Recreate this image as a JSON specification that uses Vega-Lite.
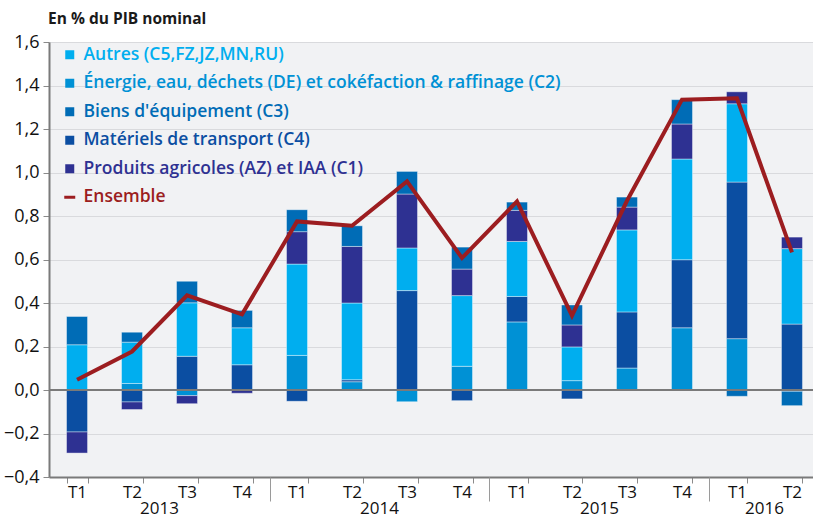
{
  "$schema": "https://vega.github.io/schema/vega-lite/v6.json",
  "width": 764,
  "height": 435,
  "autosize": {"type": "none"},
  "padding": {"left": 49, "top": 42, "right": 0, "bottom": 40},
  "background": "white",
  "title": {"text": "En % du PIB nominal", "anchor": "start", "frame": "group", "offset": 6, "fontSize": 15.5, "fontWeight": "bold", "font": "Open Sans", "color": "#1a1a1a", "dx": -1},
  "config": {"view": {"stroke": null, "fill": "#f1f2f4"}, "font": "Open Sans"},
  "datasets": {
    "bars": [
      {"q": "2013-T1", "cat": "Autres (C5,FZ,JZ,MN,RU)", "v": 0.208},
      {"q": "2013-T1", "cat": "Biens d'équipement (C3)", "v": 0.13},
      {"q": "2013-T1", "cat": "Matériels de transport (C4)", "v": -0.193},
      {"q": "2013-T1", "cat": "Produits agricoles (AZ) et IAA (C1)", "v": -0.097},
      {"q": "2013-T2", "cat": "Énergie, eau, déchets (DE) et cokéfaction & raffinage (C2)", "v": 0.03},
      {"q": "2013-T2", "cat": "Autres (C5,FZ,JZ,MN,RU)", "v": 0.19},
      {"q": "2013-T2", "cat": "Biens d'équipement (C3)", "v": 0.046},
      {"q": "2013-T2", "cat": "Matériels de transport (C4)", "v": -0.055},
      {"q": "2013-T2", "cat": "Produits agricoles (AZ) et IAA (C1)", "v": -0.035},
      {"q": "2013-T3", "cat": "Matériels de transport (C4)", "v": 0.155},
      {"q": "2013-T3", "cat": "Autres (C5,FZ,JZ,MN,RU)", "v": 0.246},
      {"q": "2013-T3", "cat": "Biens d'équipement (C3)", "v": 0.099},
      {"q": "2013-T3", "cat": "Énergie, eau, déchets (DE) et cokéfaction & raffinage (C2)", "v": -0.026},
      {"q": "2013-T3", "cat": "Produits agricoles (AZ) et IAA (C1)", "v": -0.037},
      {"q": "2013-T4", "cat": "Matériels de transport (C4)", "v": 0.116},
      {"q": "2013-T4", "cat": "Autres (C5,FZ,JZ,MN,RU)", "v": 0.17},
      {"q": "2013-T4", "cat": "Biens d'équipement (C3)", "v": 0.08},
      {"q": "2013-T4", "cat": "Produits agricoles (AZ) et IAA (C1)", "v": -0.015},
      {"q": "2014-T1", "cat": "Énergie, eau, déchets (DE) et cokéfaction & raffinage (C2)", "v": 0.159},
      {"q": "2014-T1", "cat": "Autres (C5,FZ,JZ,MN,RU)", "v": 0.42},
      {"q": "2014-T1", "cat": "Produits agricoles (AZ) et IAA (C1)", "v": 0.149},
      {"q": "2014-T1", "cat": "Biens d'équipement (C3)", "v": 0.101},
      {"q": "2014-T1", "cat": "Matériels de transport (C4)", "v": -0.052},
      {"q": "2014-T2", "cat": "Énergie, eau, déchets (DE) et cokéfaction & raffinage (C2)", "v": 0.038},
      {"q": "2014-T2", "cat": "Matériels de transport (C4)", "v": 0.009},
      {"q": "2014-T2", "cat": "Autres (C5,FZ,JZ,MN,RU)", "v": 0.353},
      {"q": "2014-T2", "cat": "Produits agricoles (AZ) et IAA (C1)", "v": 0.26},
      {"q": "2014-T2", "cat": "Biens d'équipement (C3)", "v": 0.095},
      {"q": "2014-T3", "cat": "Matériels de transport (C4)", "v": 0.457},
      {"q": "2014-T3", "cat": "Autres (C5,FZ,JZ,MN,RU)", "v": 0.196},
      {"q": "2014-T3", "cat": "Produits agricoles (AZ) et IAA (C1)", "v": 0.248},
      {"q": "2014-T3", "cat": "Biens d'équipement (C3)", "v": 0.104},
      {"q": "2014-T3", "cat": "Énergie, eau, déchets (DE) et cokéfaction & raffinage (C2)", "v": -0.054},
      {"q": "2014-T4", "cat": "Énergie, eau, déchets (DE) et cokéfaction & raffinage (C2)", "v": 0.109},
      {"q": "2014-T4", "cat": "Autres (C5,FZ,JZ,MN,RU)", "v": 0.325},
      {"q": "2014-T4", "cat": "Produits agricoles (AZ) et IAA (C1)", "v": 0.122},
      {"q": "2014-T4", "cat": "Biens d'équipement (C3)", "v": 0.101},
      {"q": "2014-T4", "cat": "Matériels de transport (C4)", "v": -0.049},
      {"q": "2015-T1", "cat": "Énergie, eau, déchets (DE) et cokéfaction & raffinage (C2)", "v": 0.313},
      {"q": "2015-T1", "cat": "Matériels de transport (C4)", "v": 0.117},
      {"q": "2015-T1", "cat": "Autres (C5,FZ,JZ,MN,RU)", "v": 0.253},
      {"q": "2015-T1", "cat": "Produits agricoles (AZ) et IAA (C1)", "v": 0.143},
      {"q": "2015-T1", "cat": "Biens d'équipement (C3)", "v": 0.038},
      {"q": "2015-T2", "cat": "Énergie, eau, déchets (DE) et cokéfaction & raffinage (C2)", "v": 0.043},
      {"q": "2015-T2", "cat": "Autres (C5,FZ,JZ,MN,RU)", "v": 0.155},
      {"q": "2015-T2", "cat": "Produits agricoles (AZ) et IAA (C1)", "v": 0.101},
      {"q": "2015-T2", "cat": "Biens d'équipement (C3)", "v": 0.092},
      {"q": "2015-T2", "cat": "Matériels de transport (C4)", "v": -0.041},
      {"q": "2015-T3", "cat": "Énergie, eau, déchets (DE) et cokéfaction & raffinage (C2)", "v": 0.101},
      {"q": "2015-T3", "cat": "Matériels de transport (C4)", "v": 0.258},
      {"q": "2015-T3", "cat": "Autres (C5,FZ,JZ,MN,RU)", "v": 0.377},
      {"q": "2015-T3", "cat": "Produits agricoles (AZ) et IAA (C1)", "v": 0.105},
      {"q": "2015-T3", "cat": "Biens d'équipement (C3)", "v": 0.046},
      {"q": "2015-T4", "cat": "Énergie, eau, déchets (DE) et cokéfaction & raffinage (C2)", "v": 0.286},
      {"q": "2015-T4", "cat": "Matériels de transport (C4)", "v": 0.313},
      {"q": "2015-T4", "cat": "Autres (C5,FZ,JZ,MN,RU)", "v": 0.463},
      {"q": "2015-T4", "cat": "Produits agricoles (AZ) et IAA (C1)", "v": 0.161},
      {"q": "2015-T4", "cat": "Biens d'équipement (C3)", "v": 0.112},
      {"q": "2016-T1", "cat": "Énergie, eau, déchets (DE) et cokéfaction & raffinage (C2)", "v": 0.236},
      {"q": "2016-T1", "cat": "Matériels de transport (C4)", "v": 0.72},
      {"q": "2016-T1", "cat": "Autres (C5,FZ,JZ,MN,RU)", "v": 0.36},
      {"q": "2016-T1", "cat": "Produits agricoles (AZ) et IAA (C1)", "v": 0.055},
      {"q": "2016-T1", "cat": "Biens d'équipement (C3)", "v": -0.029},
      {"q": "2016-T2", "cat": "Matériels de transport (C4)", "v": 0.303},
      {"q": "2016-T2", "cat": "Autres (C5,FZ,JZ,MN,RU)", "v": 0.347},
      {"q": "2016-T2", "cat": "Produits agricoles (AZ) et IAA (C1)", "v": 0.053},
      {"q": "2016-T2", "cat": "Énergie, eau, déchets (DE) et cokéfaction & raffinage (C2)", "v": -0.006},
      {"q": "2016-T2", "cat": "Biens d'équipement (C3)", "v": -0.066}
    ],
    "ens": [
      {"q": "2013-T1", "v": 0.047},
      {"q": "2013-T2", "v": 0.177},
      {"q": "2013-T3", "v": 0.435},
      {"q": "2013-T4", "v": 0.348},
      {"q": "2014-T1", "v": 0.775},
      {"q": "2014-T2", "v": 0.755},
      {"q": "2014-T3", "v": 0.959},
      {"q": "2014-T4", "v": 0.607},
      {"q": "2015-T1", "v": 0.867},
      {"q": "2015-T2", "v": 0.342},
      {"q": "2015-T3", "v": 0.87},
      {"q": "2015-T4", "v": 1.335},
      {"q": "2016-T1", "v": 1.341},
      {"q": "2016-T2", "v": 0.633}
    ]
  },
  "layer": [
    {
      "data": {"name": "bars"},
      "transform": [
        {"calculate": "indexof(['Énergie, eau, déchets (DE) et cokéfaction & raffinage (C2)','Matériels de transport (C4)','Autres (C5,FZ,JZ,MN,RU)','Produits agricoles (AZ) et IAA (C1)','Biens d\\'équipement (C3)'], datum.cat)", "as": "o"}
      ],
      "mark": {"type": "bar", "stroke": "#ffffff", "strokeOpacity": 0.4, "strokeWidth": 1},
      "encoding": {
        "x": {
          "field": "q", "type": "ordinal",
          "scale": {
            "domain": ["2013-T1","2013-T2","2013-T3","2013-T4","2014-T1","2014-T2","2014-T3","2014-T4","2015-T1","2015-T2","2015-T3","2015-T4","2016-T1","2016-T2"],
            "paddingInner": 0.618, "paddingOuter": 0.255, "align": 0.625
          },
          "axis": {
            "orient": "bottom", "title": null, "labelExpr": "split(datum.value,'-')[1]",
            "tickBand": "extent", "tickSize": 6, "tickColor": "#8a8a8a", "tickWidth": 1,
            "domainColor": "#7a7a7a", "domainWidth": 2, "labelFontSize": 17, "labelColor": "#111111",
            "labelPadding": 1, "labelAngle": 0, "grid": false
          }
        },
        "y": {
          "field": "v", "type": "quantitative",
          "scale": {"domain": [-0.4, 1.6], "nice": false, "zero": false},
          "axis": {
            "title": null, "values": [-0.4,-0.2,0,0.2,0.4,0.6,0.8,1.0,1.2,1.4,1.6],
            "labelExpr": "replace(format(datum.value,'.1f'),'.',',')",
            "grid": true, "gridColor": "#d9dadd", "gridWidth": 1,
            "tickSize": 6, "tickColor": "#8a8a8a", "domainColor": "#7a7a7a", "domainWidth": 2,
            "labelFontSize": 18, "labelColor": "#111111", "labelPadding": 4
          }
        },
        "color": {
          "field": "cat", "type": "nominal",
          "scale": {
            "domain": ["Autres (C5,FZ,JZ,MN,RU)","Énergie, eau, déchets (DE) et cokéfaction & raffinage (C2)","Biens d'équipement (C3)","Matériels de transport (C4)","Produits agricoles (AZ) et IAA (C1)","Ensemble"],
            "range": ["#00aeef","#0091d5","#006cb6","#0b4ea2","#2e3192","#9c1d20"]
          },
          "legend": {
            "orient": "none", "legendX": 12, "legendY": 4, "title": null,
            "labelFontSize": 17.5, "labelFont": "Open Sans", "labelFontWeight": 600,
            "labelColor": {"expr": "scale('color', datum.value)"},
            "symbolType": {"expr": "datum.value === 'Ensemble' ? 'stroke' : 'square'"},
            "symbolSize": {"expr": "datum.value === 'Ensemble' ? 121 : 81"},
            "symbolStrokeWidth": {"expr": "datum.value === 'Ensemble' ? 3 : 0"},
            "symbolStrokeColor": {"expr": "scale('color', datum.value)"},
            "symbolFillColor": {"expr": "scale('color', datum.value)"},
            "symbolOpacity": 1,
            "rowPadding": 9.5, "labelOffset": 5, "labelLimit": 700
          }
        },
        "order": {"field": "o", "type": "quantitative"}
      }
    },
    {
      "data": {"values": [{}]},
      "mark": {"type": "rule", "color": "#7a7a7a", "strokeWidth": 2},
      "encoding": {"y": {"datum": 0}}
    },
    {
      "data": {"name": "ens"},
      "mark": {"type": "line", "strokeWidth": 4, "color": "#9c1d20"},
      "encoding": {
        "x": {
          "field": "q", "type": "ordinal",
          "axis": {
            "orient": "bottom", "title": null,
            "values": ["2013-T2","2014-T2","2015-T2","2016-T1"],
            "labelExpr": "split(datum.value,'-')[0]", "labelOffset": 27.5,
            "ticks": false, "domain": false, "labelPadding": 23,
            "labelFontSize": 17, "labelColor": "#111111", "labelAngle": 0, "grid": false
          }
        },
        "y": {"field": "v", "type": "quantitative"}
      }
    },
    {
      "data": {"name": "ens"},
      "mark": {"type": "tick", "opacity": 0},
      "encoding": {
        "x": {
          "field": "q", "type": "ordinal",
          "axis": {
            "orient": "bottom", "title": null,
            "values": ["2014-T1","2015-T1","2016-T1"],
            "labels": false, "domain": false, "tickSize": 24, "tickOffset": -27.5,
            "tickColor": "#9a9a9a", "tickWidth": 1, "grid": false
          }
        }
      }
    }
  ],
  "resolve": {"axis": {"x": "independent"}}
}
